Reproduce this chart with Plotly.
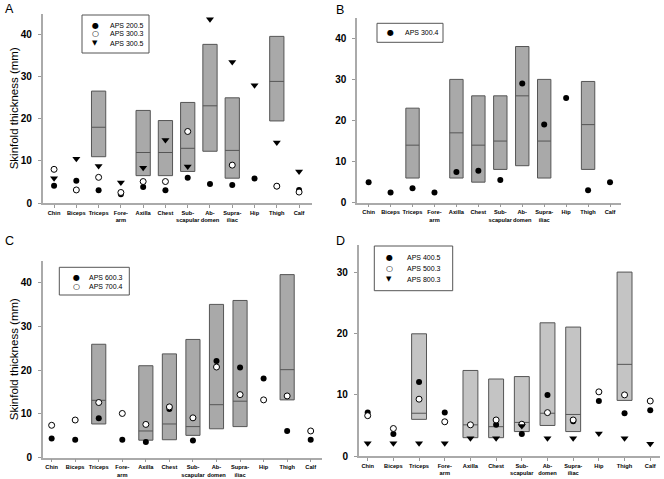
import plotly.graph_objects as go

# ---------------- data ----------------
categories = ["Chin", "Biceps", "Triceps", "Fore-<br>arm", "Axilla", "Chest",
              "Sub-<br>scapular", "Ab-<br>domen", "Supra-<br>iliac", "Hip", "Thigh", "Calf"]
box_categories = ["Triceps", "Axilla", "Chest", "Sub-<br>scapular", "Ab-<br>domen",
                  "Supra-<br>iliac", "Thigh"]

# Panel A
a_q1 = [11.0, 6.5, 6.5, 7.5, 12.3, 5.9, 19.5]
a_med = [18.0, 12.0, 12.0, 13.0, 23.1, 12.5, 28.9]
a_q3 = [26.6, 22.0, 19.6, 23.9, 37.7, 25.0, 39.6]
a_aps2005 = [4.1, 5.3, 3.0, 2.1, 3.8, 3.0, 6.0, 4.5, 4.3, 5.8, 4.0, 3.1]
a_aps3003 = [8.0, 3.1, 6.1, 2.5, 5.1, 5.1, 17.0, None, 9.0, None, 4.0, 2.6]
a_aps3005 = [5.9, 10.5, 8.8, 4.9, 8.4, 15.0, 8.7, 43.7, 33.5, 28.0, 14.4, 7.5]

# Panel B
b_q1 = [6.0, 6.0, 5.0, 8.1, 9.0, 6.0, 8.1]
b_med = [14.0, 17.0, 14.0, 15.0, 26.0, 15.0, 19.0]
b_q3 = [23.0, 30.0, 26.0, 26.0, 38.0, 30.0, 29.5]
b_aps3004 = [5.0, 2.5, 3.5, 2.5, 7.5, 7.8, 5.5, 29.0, 19.0, 25.5, 3.0, 5.0]

# Panel C
c_q1 = [7.7, 4.0, 4.1, 5.1, 6.6, 7.1, 13.2]
c_med = [13.1, 6.1, 7.7, 7.1, 12.1, 12.9, 20.1]
c_q3 = [25.9, 21.0, 23.7, 27.0, 35.0, 35.9, 41.8]
c_aps6003 = [4.4, 4.1, 9.0, 4.1, 3.6, 11.1, 3.9, 22.1, 20.6, 18.1, 6.1, 4.1]
c_aps7004 = [7.4, 8.6, 12.6, 10.1, 7.6, 11.6, 9.1, 20.7, 14.4, 13.2, 14.1, 6.1]

# Panel D
d_q1 = [6.0, 3.0, 3.0, 4.0, 5.0, 4.0, 9.1]
d_med = [7.0, 5.1, 4.8, 5.5, 7.0, 6.8, 15.0]
d_q3 = [20.0, 14.0, 12.6, 13.0, 21.8, 21.1, 30.1]
d_aps4005 = [7.1, 3.6, 12.1, 7.1, None, 5.1, 3.6, 10.0, 5.7, 9.0, 7.0, 7.5]
d_aps5003 = [6.6, 4.5, 9.3, 5.6, 5.1, 5.9, 5.2, 7.1, 5.9, 10.5, 10.0, 9.0]
d_aps8003 = [2.1, 2.1, 2.1, 2.1, 2.9, 2.9, 4.9, 2.9, 2.9, 3.7, 2.9, 2.0]

y_ticks = [0, 10, 20, 30, 40]

# ---------------- figure ----------------
FONT = "Arial, Liberation Sans, sans-serif"
W, H = 664, 479
xpos = list(range(len(categories)))
box_pos = [categories.index(c) for c in box_categories]

FILLED = dict(symbol="circle", size=6, color="black", line=dict(width=0))
OPEN = dict(symbol="circle", size=6, color="white", line=dict(width=1, color="black"))
TRI = dict(symbol="triangle-down", size=7, color="black", line=dict(width=0))
GLYPH = {id(FILLED): "\u25CF", id(OPEN): "\u25CB", id(TRI): "\u25BC"}

panels = [
    dict(key="A", ax="", q=(a_q1, a_med, a_q3), fill="#a9a9a9", bw=0.64,
         series=[("APS 200.5", a_aps2005, FILLED), ("APS 300.3", a_aps3003, OPEN),
                 ("APS 300.5", a_aps3005, TRI)],
         xdom=(42.7, 312), ybot=203.0, ppu=4.2075, yr=45, xr=(-0.51, 11.58),
         legbox=(82, 15, 149, 53), legrows=(25, 34, 43.3), legx=(95, 108),
         title=True, letter=(3, 0)),
    dict(key="B", ax="2", q=(b_q1, b_med, b_q3), fill="#a9a9a9", bw=0.61,
         series=[("APS 300.4", b_aps3004, FILLED)],
         xdom=(357, 621), ybot=202.7, ppu=4.11, yr=45, xr=(-0.53, 11.5),
         legbox=(377, 23.3, 443, 42.3), legrows=(32.7,), legx=(390.3, 403),
         title=False, letter=(334, 1)),
    dict(key="C", ax="3", q=(c_q1, c_med, c_q3), fill="#a9a9a9", bw=0.6,
         series=[("APS 600.3", c_aps6003, FILLED), ("APS 700.4", c_aps7004, OPEN)],
         xdom=(42.7, 322), ybot=457.7, ppu=4.38, yr=45, xr=(-0.38, 11.48),
         legbox=(59.3, 267.3, 129.3, 295), legrows=(277.3, 286.7), legx=(76.7, 87.3),
         title=True, letter=(3, 232)),
    dict(key="D", ax="4", q=(d_q1, d_med, d_q3), fill="#c4c4c4", bw=0.58,
         series=[("APS 400.5", d_aps4005, FILLED), ("APS 500.3", d_aps5003, OPEN),
                 ("APS 800.3", d_aps8003, TRI)],
         xdom=(358.7, 660), ybot=456.0, ppu=6.11, yr=34.5, xr=(-0.35, 11.38),
         legbox=(374.3, 246, 452.7, 290.7), legrows=(257.3, 268.3, 279.3),
         legx=(389.3, 404.7), title=False, letter=(334, 232)),
]

fig = go.Figure()
layout = dict(width=W, height=H, margin=dict(l=0, r=0, t=0, b=0),
              paper_bgcolor="white", plot_bgcolor="white", showlegend=False,
              font=dict(family=FONT, color="black"), annotations=[], shapes=[])


def px(x):
    return x / W


def py(y):
    return 1 - y / H


for i, p in enumerate(panels):
    xa, ya = "x" + p["ax"], "y" + p["ax"]
    q1, med, q3 = p["q"]
    fig.add_trace(go.Box(
        x=box_pos, q1=q1, median=med, q3=q3, lowerfence=q1, upperfence=q3,
        width=p["bw"], fillcolor=p["fill"], line=dict(color="#555555", width=1),
        whiskerwidth=0, boxpoints=False, showlegend=False, hoverinfo="skip",
        xaxis=xa, yaxis=ya))
    for name, vals, mk in p["series"]:
        fig.add_trace(go.Scatter(
            x=xpos, y=vals, mode="markers", name=name, marker=mk,
            xaxis=xa, yaxis=ya, cliponaxis=False))

    top = p["ybot"] - p["yr"] * p["ppu"]
    xkey = "xaxis" + p["ax"]
    ykey = "yaxis" + p["ax"]
    layout[xkey] = dict(domain=[px(p["xdom"][0]), px(p["xdom"][1])], range=list(p["xr"]),
                        anchor=ya, tickvals=xpos,
                        ticktext=["<b>%s</b>" % c for c in categories],
                        tickfont=dict(size=5.7, family=FONT, color="black"), ticks="outside",
                        ticklen=3, tickcolor="#999999", showline=True,
                        linecolor="#aaaaaa", linewidth=1.5, showgrid=False,
                        zeroline=False, tickangle=0, fixedrange=True, automargin=False)
    yt = [t for t in y_ticks if t <= p["yr"]]
    layout[ykey] = dict(domain=[py(p["ybot"]), py(top)], range=[0, p["yr"]], anchor=xa,
                        tickvals=yt, ticktext=["<b>%d</b>" % t for t in yt],
                        tickfont=dict(size=10, family=FONT, color="black"), ticks="outside",
                        ticklen=3, tickcolor="#999999", showline=True,
                        linecolor="#aaaaaa", linewidth=1.5, showgrid=False,
                        zeroline=False, ticklabelstandoff=4, fixedrange=True,
                        automargin=False)
    if p["title"]:
        layout[ykey]["title"] = dict(text="Skinfold thickness (mm)",
                                     font=dict(size=11.5, family=FONT), standoff=0)

    # legend box drawn with a rectangle and text rows
    x0, y0, x1, y1 = p["legbox"]
    layout["shapes"].append(dict(type="rect", xref="paper", yref="paper",
                                 x0=px(x0), x1=px(x1), y0=py(y1), y1=py(y0),
                                 line=dict(color="#555555", width=1), fillcolor="white",
                                 layer="above"))
    for (name, vals, mk), ry in zip(p["series"], p["legrows"]):
        layout["annotations"].append(dict(
            text=GLYPH[id(mk)], x=px(p["legx"][0]), y=py(ry), xref="paper", yref="paper",
            xanchor="center", yanchor="middle", showarrow=False,
            font=dict(size=7 if mk is TRI else 8, family="DejaVu Sans", color="black")))
        layout["annotations"].append(dict(
            text=name, x=px(p["legx"][1]), y=py(ry), xref="paper", yref="paper",
            xanchor="left", yanchor="middle", showarrow=False,
            font=dict(size=7, family=FONT, color="black")))

    layout["annotations"].append(dict(
        text=p["key"], x=px(p["letter"][0]), y=py(p["letter"][1]),
        xref="paper", yref="paper", xanchor="left", yanchor="top",
        showarrow=False, font=dict(size=12.5, family=FONT, color="black")))

fig.update_layout(**layout)
fig.write_html("out.html", config={"displayModeBar": False},
               post_script="document.body.style.margin='0';")
